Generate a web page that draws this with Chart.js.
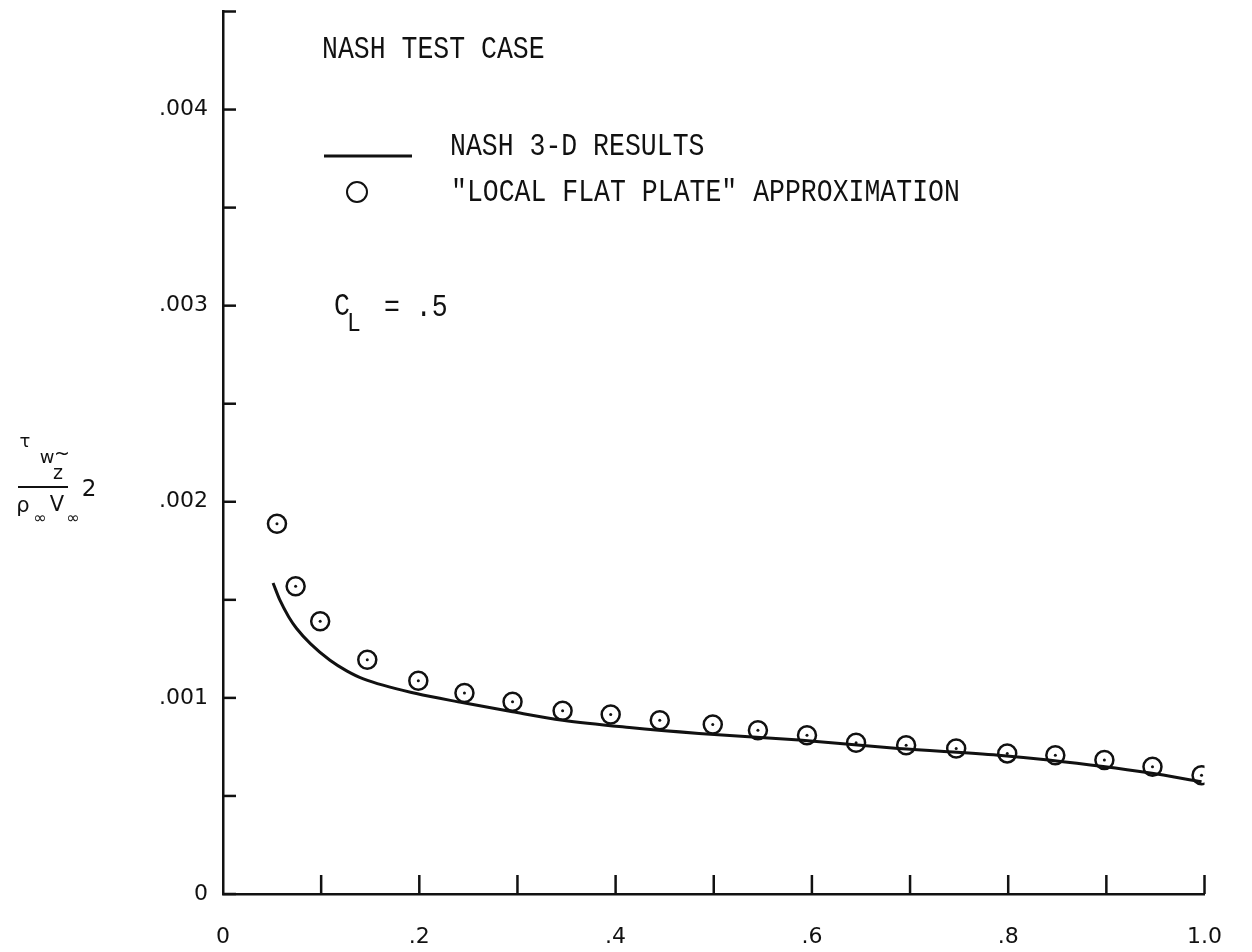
<!DOCTYPE html>
<html>
<head>
<meta charset="utf-8">
<script src="https://cdn.jsdelivr.net/npm/chart.js@4/dist/chart.umd.min.js"></script>
<style>
  html, body { margin: 0; padding: 0; background: #fff; }
  #wrap { width: 1252px; height: 952px; position: relative; }
</style>
</head>
<body>
<div id="wrap"><canvas id="chart"></canvas></div>
<script>
// Nash 3-D results (solid curve)
const nashX = [0.051, 0.058, 0.067, 0.075, 0.089, 0.109, 0.126, 0.143, 0.197, 0.245,
  0.295, 0.346, 0.414, 0.485, 0.587, 0.688, 0.790, 0.841, 0.943, 0.997];
const nashY = [1.586, 1.498, 1.413, 1.354, 1.277, 1.192, 1.138, 1.097, 1.022, 0.975,
  0.929, 0.886, 0.849, 0.819, 0.785, 0.742, 0.708, 0.683, 0.618, 0.572];

// "local flat plate" approximation (circles)
const flatX = [0.055, 0.074, 0.099, 0.147, 0.199, 0.246, 0.295, 0.346, 0.395, 0.445,
  0.499, 0.545, 0.595, 0.645, 0.696, 0.747, 0.799, 0.848, 0.898, 0.947, 0.997];
const flatY = [1.888, 1.569, 1.391, 1.194, 1.087, 1.025, 0.980, 0.934, 0.915, 0.886,
  0.864, 0.835, 0.810, 0.771, 0.759, 0.742, 0.717, 0.708, 0.683, 0.649, 0.606];

// tick labels
const xTickLabels = ["0", ".2", ".4", ".6", ".8", "1.0"];
const yTickLabels = ["0", ".001", ".002", ".003", ".004"];

const INK = "#111";
const tickFont = { family: "'DejaVu Sans', sans-serif", size: 22 };
const typeFont = "26.5px 'Liberation Mono', 'DejaVu Sans Mono', monospace";

const toPts = (xs, ys) => xs.map((x, i) => ({ x, y: ys[i] / 1000 }));

// ticks drawn inward, like the original sheet
const inwardTicks = {
  id: "inwardTicks",
  afterDraw(chart) {
    const { ctx, chartArea, scales } = chart;
    ctx.save();
    ctx.strokeStyle = INK;
    ctx.lineWidth = 2.5;
    scales.y.ticks.forEach((t) => {
      const py = scales.y.getPixelForValue(t.value);
      ctx.beginPath();
      ctx.moveTo(chartArea.left, py);
      ctx.lineTo(chartArea.left + 13, py);
      ctx.stroke();
    });
    scales.x.ticks.forEach((t, i) => {
      if (i === 0) return;
      const px = scales.x.getPixelForValue(t.value);
      ctx.beginPath();
      ctx.moveTo(px, chartArea.bottom);
      ctx.lineTo(px, chartArea.bottom - 19);
      ctx.stroke();
    });
    ctx.restore();
  },
};

// typewriter text is taller than Liberation Mono, so stretch it a little
function typeText(ctx, str, x, y, font) {
  ctx.save();
  ctx.font = font || typeFont;
  ctx.translate(x, y);
  ctx.scale(1, 1.18);
  ctx.fillText(str, 0, 0);
  ctx.restore();
}

// texts on the sheet: title, legend, C_L, and the y-axis fraction
const sheetText = {
  id: "sheetText",
  afterDraw(chart) {
    const ctx = chart.ctx;
    ctx.save();
    ctx.fillStyle = INK;
    ctx.strokeStyle = INK;
    ctx.textBaseline = "middle";
    ctx.textAlign = "left";

    typeText(ctx, "NASH TEST CASE", 322, 50);
    typeText(ctx, "NASH 3-D RESULTS", 450, 147);
    typeText(ctx, '"LOCAL FLAT PLATE" APPROXIMATION', 451, 193);
    typeText(ctx, "C", 334, 307);
    typeText(ctx, "= .5", 384, 308);
    typeText(ctx, "L", 347, 324, "23px 'Liberation Mono', monospace");

    // legend samples
    ctx.lineWidth = 3;
    ctx.beginPath();
    ctx.moveTo(324, 156);
    ctx.lineTo(412, 156);
    ctx.stroke();
    ctx.lineWidth = 2;
    ctx.beginPath();
    ctx.arc(357, 192, 10, 0, Math.PI * 2);
    ctx.stroke();

    // y axis title: tau_w~z / rho_inf V_inf ^2
    ctx.textAlign = "center";
    ctx.font = "18px 'DejaVu Sans', sans-serif";
    ctx.fillText("τ", 25, 442);
    ctx.fillText("w", 47, 458);
    ctx.font = "19px 'DejaVu Sans', sans-serif";
    ctx.fillText("~", 62, 455);
    ctx.fillText("z", 58, 474);
    ctx.lineWidth = 2;
    ctx.beginPath();
    ctx.moveTo(18, 487);
    ctx.lineTo(68, 487);
    ctx.stroke();
    ctx.font = "21px 'DejaVu Sans', sans-serif";
    ctx.fillText("ρ", 23, 507);
    ctx.fillText("V", 57, 506);
    ctx.font = "23px 'DejaVu Sans', sans-serif";
    ctx.fillText("2", 89, 490);
    ctx.font = "16px 'DejaVu Sans', sans-serif";
    ctx.fillText("∞", 40, 519);
    ctx.fillText("∞", 73, 519);
    ctx.restore();
  },
};

new Chart(document.getElementById("chart"), {
  type: "scatter",
  data: {
    datasets: [
      {
        label: "NASH 3-D RESULTS",
        data: toPts(nashX, nashY),
        showLine: true,
        borderColor: INK,
        borderWidth: 3,
        pointRadius: 0,
        cubicInterpolationMode: "monotone",
      },
      {
        label: '"LOCAL FLAT PLATE" APPROXIMATION',
        data: toPts(flatX, flatY),
        showLine: false,
        pointStyle: "circle",
        pointRadius: 9,
        borderColor: INK,
        borderWidth: 2.5,
        backgroundColor: "rgba(0,0,0,0)",
      },
      {
        label: "centre dots",
        data: toPts(flatX, flatY),
        showLine: false,
        pointRadius: 1.5,
        borderWidth: 0,
        backgroundColor: INK,
      },
    ],
  },
  options: {
    responsive: true,
    maintainAspectRatio: false,
    animation: false,
    layout: { padding: { top: 11, right: 45, left: 0, bottom: 0 } },
    plugins: { legend: { display: false }, tooltip: { enabled: false } },
    scales: {
      x: {
        type: "linear",
        min: 0,
        max: 1,
        grid: { display: false, drawTicks: false },
        border: { display: true, color: INK, width: 2.5 },
        ticks: {
          stepSize: 0.1,
          padding: 30,
          color: INK,
          font: tickFont,
          maxRotation: 0,
          autoSkip: false,
          callback: (v, i) => (i % 2 === 0 ? xTickLabels[i / 2] : ""),
        },
        afterFit: (s) => { s.height = 58; },
      },
      y: {
        type: "linear",
        min: 0,
        max: 0.0045,
        grid: { display: false, drawTicks: false },
        border: { display: true, color: INK, width: 2.5 },
        ticks: {
          stepSize: 0.0005,
          padding: 15,
          color: INK,
          font: tickFont,
          autoSkip: false,
          callback: (v, i) => (i % 2 === 0 ? yTickLabels[i / 2] : ""),
        },
        afterFit: (s) => {
          s.width = 223;
          s.paddingTop = 0;
          s.paddingBottom = 0;
        },
      },
    },
  },
  plugins: [inwardTicks, sheetText],
});
</script>
</body>
</html>
